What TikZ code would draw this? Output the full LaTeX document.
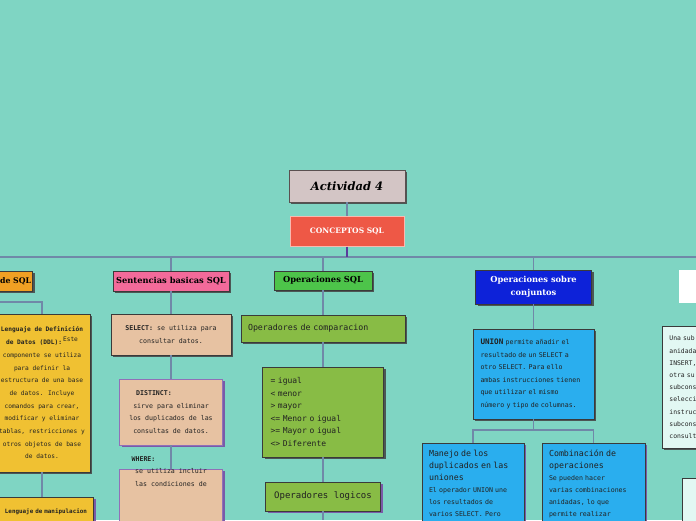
\documentclass[tikz,border=0pt]{standalone}
\usepackage{fontspec}
\setmainfont{Liberation Serif}
\newfontfamily\slabfont{DejaVu Serif}
\newfontfamily\pixfont{DejaVu Sans Mono}
\usetikzlibrary{positioning,shadows}
\definecolor{bg}{HTML}{7FD5C3}
\definecolor{wirec}{HTML}{7088A8}
\definecolor{actfill}{HTML}{D3C5C5}
\definecolor{actline}{HTML}{5A5050}
\definecolor{conred}{HTML}{EE5846}
\definecolor{conline}{HTML}{F9B9B0}
\definecolor{conpurple}{HTML}{5A3C9C}
\definecolor{shadowdark}{HTML}{4C5654}
\definecolor{shadowpurple}{HTML}{7A5AA8}
\definecolor{purpline}{HTML}{9070B8}
\definecolor{boxline}{HTML}{3A3A3A}
\definecolor{ink}{HTML}{222222}
\definecolor{orange1}{HTML}{F0A023}
\definecolor{yellow1}{HTML}{F0C132}
\definecolor{pink1}{HTML}{F36A9A}
\definecolor{tan1}{HTML}{E7C2A2}
\definecolor{green1}{HTML}{4DC44A}
\definecolor{olive1}{HTML}{88BC45}
\definecolor{blue1}{HTML}{0D22D9}
\definecolor{sky1}{HTML}{2AAEEE}
\definecolor{cyan1}{HTML}{E2F8F3}

\begin{document}
\begin{tikzpicture}[x=1pt, y=-1pt,
    box/.style={draw=boxline, line width=0.8pt, inner sep=0pt},
    dshadow/.style={drop shadow={shadow xshift=2pt, shadow yshift=-2pt, fill=shadowdark, opacity=1}},
    pshadow/.style={drop shadow={shadow xshift=2pt, shadow yshift=-2pt, fill=shadowpurple, opacity=1}},
    head/.style={box, dshadow, inner sep=3pt, font=\slabfont\bfseries\fontsize{8.3}{11}\selectfont},
    body/.style={box, text=ink, font=\pixfont\fontsize{6.6}{12.5}\selectfont},
    wire/.style={draw=wirec, line width=1.2pt}]
    \fill[bg] (0,0) rectangle (696,520);
    \useasboundingbox (0,0) rectangle (696,520);
    % title and main concept
    \node[box, dshadow, fill=actfill, draw=actline, minimum width=116, minimum height=32,
      font=\slabfont\bfseries\itshape\fontsize{11.5}{14}\selectfont] (act) at (347,186) {Actividad 4};
    \node[fill=conred, draw=conline, line width=1pt, minimum width=114, minimum height=30, text=white,
      font=\slabfont\bfseries\fontsize{7.5}{9}\selectfont] (con) at (347,231) {CONCEPTOS SQL};
    \draw[wire] (act) -- (con);
    \coordinate (busL) at (0,257); \coordinate (busR) at (696,257);
    \draw[wire] (busL) -- (busR);
    \draw[conpurple, line width=1.6pt] (con.south) -- (con.south |- busL);
    % branch 1 (cut at the left edge)
    \node[head, fill=orange1, text width=70, align=right, inner xsep=1.5pt, minimum height=20, anchor=east,
      font=\slabfont\bfseries\fontsize{7.8}{10}\selectfont] (c1) at (33,281) {de SQL};
    \node[body, dshadow, fill=yellow1, minimum width=96, minimum height=158, align=center,
      font=\pixfont\fontsize{6.2}{12.7}\selectfont] (ddl) at (42,393)
      {\textbf{Lenguaje de Definición}\\\textbf{de Datos (DDL):}\,\raisebox{3pt}{Este}\\componente se utiliza\\para definir la\\estructura de una base\\de datos. Incluye\\comandos para crear,\\modificar y eliminar\\tablas, restricciones y\\otros objetos de base\\de datos.};
    \node[body, pshadow, fill=yellow1, anchor=north, minimum width=103, text width=90, align=right, inner ysep=5pt,
      text height=11, text depth=40, font=\pixfont\fontsize{5.9}{12.7}\selectfont] (dml) at (42,497) {\textbf{Lenguaje de manipulacion}};
    \coordinate (j1) at (42,302);
    \draw[wire] (c1.south) |- (j1) -- (ddl.north);
    \draw[wire] (ddl) -- (dml);
    % branch 2
    \node[head, fill=pink1, minimum width=116, minimum height=20] (c2) at (171,281) {Sentencias basicas SQL};
    \node[body, dshadow, fill=tan1, minimum width=120, minimum height=41, align=center] (sel) at (171,334.5)
      {\textbf{SELECT:} se utiliza para\\consultar datos.};
    \node[body, pshadow, draw=purpline, fill=tan1, minimum width=103, minimum height=66, align=center] (dis) at (171,412)
      {\textbf{DISTINCT:}\hspace*{34pt}\\sirve para eliminar\\los duplicados de las\\consultas de datos.};
    \node[body, pshadow, draw=purpline, fill=tan1, anchor=north, minimum width=103, inner ysep=5pt,
      text height=12, text depth=40, align=center] (whe) at (171,469)
      {\textbf{WHERE:}\hspace*{55pt}\\se utiliza incluir\\las condiciones de};
    \draw[wire] (c2) -- (sel); \draw[wire] (sel) -- (dis); \draw[wire] (dis) -- (whe);
    % branch 3
    \node[head, fill=green1, minimum width=98, minimum height=19] (c3) at (323,280.5) {Operaciones SQL};
    \node[body, dshadow, fill=olive1, minimum width=164, minimum height=27, text width=150, align=left,
      font=\pixfont\fontsize{8.3}{10}\selectfont] (cmp) at (323,328.5) {Operadores de comparacion};
    \node[body, dshadow, fill=olive1, minimum width=121, minimum height=90, text width=105, align=left,
      font=\pixfont\fontsize{8}{12.6}\selectfont] (ops) at (323,412)
      {= igual\\< menor\\> mayor\\<= Menor o igual\\>= Mayor o igual\\<> Diferente};
    \node[body, pshadow, fill=olive1, minimum width=115, minimum height=29,
      font=\pixfont\fontsize{9}{11}\selectfont] (log) at (323,496.5) {Operadores logicos};
    \coordinate (c3end) at (323,520);
    \draw[wire] (c3) -- (cmp); \draw[wire] (cmp) -- (ops); \draw[wire] (ops) -- (log); \draw[wire] (log) -- (c3end);
    % branch 4
    \node[head, fill=blue1, text=white, minimum width=116, minimum height=34, align=center,
      font=\slabfont\bfseries\fontsize{8.3}{12.5}\selectfont] (conj) at (533.5,287) {Operaciones sobre\\conjuntos};
    \node[body, dshadow, fill=sky1, minimum width=121, minimum height=90, text width=106, align=left] (uni) at (533.5,374)
      {{\fontsize{7.6}{12.5}\selectfont\textbf{UNION}} permite añadir el\\resultado de un SELECT a\\otro SELECT. Para ello\\ambas instrucciones tienen\\que utilizar el mismo\\número y tipo de columnas.};
    \node[body, pshadow, fill=sky1, anchor=north, minimum width=102, text width=88, align=left, inner ysep=4pt,
      text height=9, text depth=70, font=\pixfont\fontsize{6.6}{12}\selectfont] (dup) at (473,443)
      {{\fontsize{8.3}{12}\selectfont Manejo de los\\duplicados en las\\uniones}\\El operador UNION une\\los resultados de\\varios SELECT. Pero};
    \node[body, pshadow, fill=sky1, anchor=north, minimum width=103, text width=89, align=left, inner ysep=4pt,
      text height=9, text depth=70, font=\pixfont\fontsize{6.6}{12}\selectfont] (comb) at (593.5,443)
      {{\fontsize{8.3}{12}\selectfont Combinación de\\operaciones}\\Se pueden hacer\\varias combinaciones\\anidadas, lo que\\permite realizar};
    \coordinate (j4) at (533.5,430);
    \draw[wire] (conj) -- (uni); \draw[wire] (uni) -- (j4);
    \draw[wire] (dup.north) |- (j4) -| (comb.north);
    % branch 5 (cut at the right edge)
    \node[box, fill=white, draw=white, anchor=north west, minimum width=60, minimum height=32] (c5) at (679,270) {};
    \node[body, dshadow, fill=cyan1, anchor=north west, minimum width=60, minimum height=122, text width=46, align=left,
      font=\pixfont\fontsize{6.4}{12.2}\selectfont] (sub) at (662,326)
      {Una sub\\anidada\\INSERT,\\otra su\\subcons\\selecci\\instruc\\subcons\\consult};
    \node[box, dshadow, fill=cyan1, anchor=north west, minimum width=40, minimum height=60] (low) at (682,478) {};
    % bus drops
    \foreach \n in {c1,c2,c3,conj,c5} \draw[wire] (\n.north |- busL) -- (\n.north);
\end{tikzpicture}
\end{document}
